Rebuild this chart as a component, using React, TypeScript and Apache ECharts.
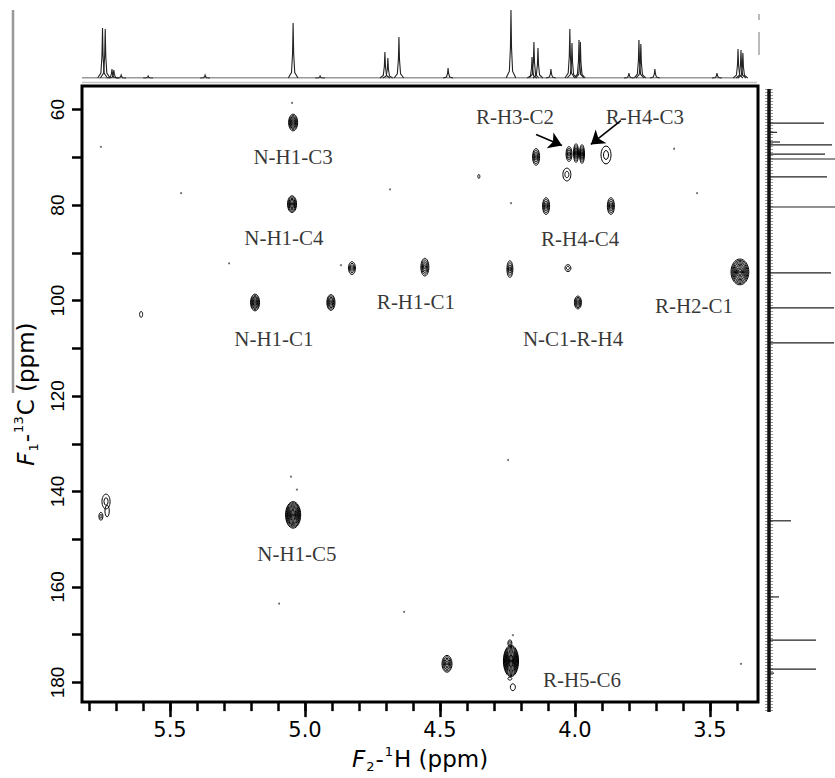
import React, { useEffect, useRef } from "react";
import * as echarts from "echarts";

// axis ranges (ppm)
const H_MIN = 3.322;
const H_MAX = 5.826;
const C_MIN = 55.05;
const C_MAX = 184.12;

const hMinorTicks = [3.4, 3.5, 3.6, 3.7, 3.8, 3.9, 4.0, 4.1, 4.2, 4.3, 4.4, 4.5, 4.6, 4.7, 4.8, 4.9, 5.0, 5.1, 5.2, 5.3, 5.4, 5.5, 5.6, 5.7, 5.8];
const hMajorTicks = [3.5, 4.0, 4.5, 5.0, 5.5];
const cTicks = [60, 70, 80, 90, 100, 110, 120, 130, 140, 150, 160, 170, 180];
const cLabels = [60, 80, 100, 120, 140, 160, 180];

// cross peaks: [1H ppm, 13C ppm, 1H half-width ppm, 13C half-width ppm, contour levels]
const crossPeaks = [
  [5.044, 62.7, 0.0167, 1.75, 7],
  [5.048, 79.8, 0.0167, 1.75, 7],
  [4.826, 93.2, 0.013, 1.34, 4],
  [5.185, 100.4, 0.0167, 1.75, 7],
  [4.904, 100.4, 0.015, 1.65, 6],
  [5.607, 102.9, 0.0056, 0.62, 1],
  [4.144, 69.9, 0.013, 1.75, 5],
  [4.022, 69.3, 0.011, 1.55, 4],
  [3.996, 69.1, 0.0093, 1.96, 5],
  [3.974, 69.3, 0.0093, 1.96, 5],
  [3.885, 69.5, 0.0185, 1.86, 2],
  [4.03, 73.6, 0.0148, 1.34, 2],
  [4.356, 74.0, 0.0037, 0.41, 1],
  [4.107, 80.2, 0.013, 1.75, 5],
  [3.867, 80.2, 0.013, 1.75, 5],
  [4.556, 93.0, 0.0148, 1.86, 5],
  [4.241, 93.4, 0.011, 1.75, 4],
  [4.026, 93.2, 0.011, 0.72, 2],
  [3.389, 94.0, 0.033, 2.7, 10],
  [3.989, 100.4, 0.013, 1.34, 5],
  [5.737, 142.1, 0.015, 1.55, 2],
  [5.756, 145.2, 0.0074, 0.82, 2],
  [5.733, 144.1, 0.008, 1.2, 1],
  [5.044, 144.9, 0.028, 2.78, 12],
  [4.474, 176.1, 0.0185, 1.75, 6],
  [4.237, 175.5, 0.028, 3.3, 14],
  [4.241, 171.8, 0.0074, 0.72, 2],
  [4.23, 181.0, 0.0093, 0.72, 1],
  [4.241, 179.2, 0.0074, 0.31, 1],
];

// isolated noise specks [1H ppm, 13C ppm]
const noiseDots = [
  [5.048, 58.6], [5.756, 67.8], [5.459, 77.5], [4.685, 76.7], [5.281, 92.2],
  [4.867, 92.6], [3.633, 68.2], [4.237, 79.6], [3.548, 77.5], [5.052, 136.9],
  [5.03, 139.6], [5.096, 163.5], [4.633, 165.2], [4.23, 170.1], [3.385, 176.1],
  [4.248, 133.4],
];

// assignment labels
const labelText = ["N-H1-C3", "N-H1-C4", "N-H1-C1", "R-H1-C1", "R-H3-C2", "R-H4-C3", "R-H4-C4", "R-H2-C1", "N-C1-R-H4", "N-H1-C5", "R-H5-C6"];
const labelH = [5.044, 5.078, 5.115, 4.589, 4.222, 3.741, 3.981, 3.559, 4.007, 5.03, 3.974];
const labelC = [69.9, 86.8, 108.0, 100.2, 61.6, 61.6, 87.0, 101.2, 108.0, 153.0, 179.4];

// arrows [from, to]
const arrowFrom = [[4.144, 65.2], [3.83, 62.3]];
const arrowTo = [[4.048, 67.5], [3.941, 67.3]];

// 1H projection (top)
const protonPpm = [5.75, 5.74, 5.715, 5.708, 5.681, 5.581, 5.37, 5.044, 4.944, 4.704, 4.693, 4.652, 4.47, 4.237, 4.159, 4.152, 4.137, 4.089, 4.019, 4.011, 3.985, 3.98, 3.8, 3.763, 3.756, 3.704, 3.474, 3.396, 3.385, 3.378];
const protonHeight = [50, 49, 9, 8, 3, 2, 3, 55, 2, 26, 20, 41, 10, 68, 21, 36, 30, 9, 49, 35, 38, 36, 5, 38, 34, 9, 5, 29, 28, 25];

// 13C projection (right)
const carbonPpm = [62.7, 64.6, 66.6, 67.2, 69.1, 70.1, 73.8, 80.0, 93.6, 100.8, 108.0, 144.7, 160.4, 169.3, 175.3, 176.1];
const carbonHeight = [55, 8, 11, 63, 56, 66, 58, 66, 62, 65, 65, 22, 10, 47, 47, 5];

const SANS = "DejaVu Sans, Liberation Sans, Arial, sans-serif";
const SERIF = "Liberation Serif, Times New Roman, serif";

const nameRich = {
  f: { fontFamily: SANS, fontSize: 23, fontStyle: "italic", color: "#000", lineHeight: 28 },
  n: { fontFamily: SANS, fontSize: 23, color: "#000", lineHeight: 28 },
  sub: { fontFamily: SANS, fontSize: 13, color: "#000", lineHeight: 28, verticalAlign: "bottom", padding: [10, 1, 0, 1] },
  sup: { fontFamily: SANS, fontSize: 13, color: "#000", lineHeight: 28, verticalAlign: "top", padding: [0, 1, 10, 1] },
};

export default function App() {
  const ref = useRef<HTMLDivElement>(null);
  useEffect(() => {
    if (!ref.current) return;
    const chart = echarts.init(ref.current, undefined, { renderer: "svg" });

    const option: any = {
      animation: false,
      backgroundColor: "#fff",
      grid: [
        { left: 82, top: 86, width: 676, height: 626, show: true, borderColor: "#000", borderWidth: 3, backgroundColor: "transparent", z: 5 },
        { left: 82, top: 8, width: 676, height: 70 },
        { left: 769, top: 86, width: 66, height: 626 },
      ],
      xAxis: [
        {
          gridIndex: 0, type: "value", min: H_MIN, max: H_MAX, inverse: true, position: "bottom",
          axisLine: { show: false }, splitLine: { show: false },
          axisTick: { show: true, customValues: hMinorTicks, length: 9, lineStyle: { color: "#000", width: 2.5 } },
          axisLabel: { show: false },
        },
        {
          gridIndex: 0, type: "value", min: H_MIN, max: H_MAX, inverse: true, position: "bottom",
          axisLine: { show: false }, splitLine: { show: false },
          axisTick: { show: true, customValues: hMajorTicks, length: 15, lineStyle: { color: "#000", width: 2.5 } },
          axisLabel: {
            show: true, customValues: hMajorTicks, formatter: (v: number) => v.toFixed(1),
            fontFamily: SANS, fontSize: 21, color: "#000", margin: 17,
          },
          name: "{f|F}{sub|2}{n|-}{sup|1}{n|H (ppm)}",
          nameLocation: "middle", nameGap: 35,
          nameTextStyle: { rich: nameRich },
        },
        { gridIndex: 1, type: "value", min: H_MIN, max: H_MAX, inverse: true, show: false },
        { gridIndex: 2, type: "value", min: 0, max: 66, show: false },
      ],
      yAxis: [
        {
          gridIndex: 0, type: "value", min: C_MIN, max: C_MAX, inverse: true,
          axisLine: { show: false }, splitLine: { show: false },
          axisTick: { show: true, customValues: cTicks, length: 10, lineStyle: { color: "#000", width: 2.5 } },
          axisLabel: {
            show: true, customValues: cLabels, rotate: 90,
            fontFamily: "Liberation Sans, Arial, sans-serif", fontSize: 19, color: "#000", margin: 15,
          },
          name: "{f|F}{sub|1}{n|-}{sup|13}{n|C (ppm)}",
          nameLocation: "middle", nameGap: 40, nameRotate: 90,
          nameTextStyle: { rich: nameRich },
        },
        { gridIndex: 1, type: "value", min: 0, max: 70, show: false },
        { gridIndex: 2, type: "value", min: C_MIN, max: C_MAX, inverse: true, show: false },
      ],
      graphic: [
        { type: "line", silent: true, shape: { x1: 13, y1: 10, x2: 13, y2: 393 }, style: { stroke: "#999", lineWidth: 2.5 } },
        { type: "line", silent: true, shape: { x1: 82, y1: 82.5, x2: 757, y2: 82.5 }, style: { stroke: "#c4c4c4", lineWidth: 1.5 } },
        { type: "line", silent: true, shape: { x1: 759, y1: 14, x2: 759, y2: 20 }, style: { stroke: "#777", lineWidth: 1 } },
        { type: "line", silent: true, shape: { x1: 759, y1: 32, x2: 759, y2: 55 }, style: { stroke: "#777", lineWidth: 1 } },
      ],
      series: [
        {
          type: "custom", xAxisIndex: 0, yAxisIndex: 0, silent: true, z: 3,
          data: crossPeaks,
          renderItem: (params: any, api: any) => {
            const pt = api.coord([api.value(0), api.value(1)]);
            const sz = api.size([api.value(2), api.value(3)]);
            const rx = Math.abs(sz[0]);
            const ry = Math.abs(sz[1]);
            const n = api.value(4);
            const children: any[] = [];
            for (let i = 0; i < n; i++) {
              const f = 1 - i / n;
              children.push({
                type: "ellipse",
                shape: { cx: pt[0], cy: pt[1], rx: Math.max(rx * f, 0.6), ry: Math.max(ry * f, 0.6) },
                style: { fill: "none", stroke: "#000", lineWidth: 1 },
              });
            }
            return { type: "group", children };
          },
        },
        {
          type: "scatter", xAxisIndex: 0, yAxisIndex: 0, silent: true, symbolSize: 2,
          itemStyle: { color: "#444" }, data: noiseDots,
        },
        {
          type: "scatter", xAxisIndex: 0, yAxisIndex: 0, silent: true, symbolSize: 1, z: 6,
          itemStyle: { color: "rgba(0,0,0,0)" },
          data: labelText.map((t, i) => ({ name: t, value: [labelH[i], labelC[i]] })),
          label: {
            show: true, position: "inside", formatter: "{b}",
            fontFamily: SERIF, fontSize: 21, color: "#000", textBorderWidth: 0,
          },
          labelLayout: { hideOverlap: false },
        },
        {
          type: "lines", coordinateSystem: "cartesian2d", xAxisIndex: 0, yAxisIndex: 0, silent: true, z: 6,
          symbol: ["none", "arrow"], symbolSize: [0, 13],
          lineStyle: { color: "#000", width: 1.6, opacity: 1 },
          data: arrowFrom.map((a, i) => ({ coords: [a, arrowTo[i]] })),
        },
        // top 1H projection
        {
          type: "line", xAxisIndex: 2, yAxisIndex: 1, silent: true, showSymbol: false,
          lineStyle: { color: "#333", width: 1 },
          data: [[H_MAX, 0], [H_MIN + 0.07, 0]],
        },
        {
          type: "custom", xAxisIndex: 2, yAxisIndex: 1, silent: true,
          data: protonPpm.map((p, i) => [p, protonHeight[i]]),
          renderItem: (params: any, api: any) => {
            const p = api.value(0);
            const h = api.value(1);
            const pts = [
              api.coord([p + 0.018, 0]),
              api.coord([p + 0.006, h * 0.1]),
              api.coord([p + 0.002, h * 0.45]),
              api.coord([p, h]),
              api.coord([p - 0.002, h * 0.45]),
              api.coord([p - 0.006, h * 0.1]),
              api.coord([p - 0.018, 0]),
            ];
            return { type: "polyline", shape: { points: pts }, style: { fill: "none", stroke: "#222", lineWidth: 1.1 } };
          },
        },
        // right 13C projection
        {
          type: "line", xAxisIndex: 3, yAxisIndex: 2, silent: true, showSymbol: false,
          lineStyle: { color: "#444", width: 8, type: [1, 2], opacity: 0.55 },
          data: [[0, C_MIN + 0.6], [0, C_MAX]],
        },
        {
          type: "line", xAxisIndex: 3, yAxisIndex: 2, silent: true, showSymbol: false,
          lineStyle: { color: "#111", width: 3.5 },
          data: [[0, C_MIN + 0.6], [0, C_MAX]],
        },
        {
          type: "custom", xAxisIndex: 3, yAxisIndex: 2, silent: true,
          data: carbonPpm.map((c, i) => [carbonHeight[i], c]),
          renderItem: (params: any, api: any) => {
            const a = api.coord([0, api.value(1)]);
            const b = api.coord([api.value(0), api.value(1)]);
            return { type: "line", shape: { x1: a[0], y1: a[1], x2: b[0], y2: b[1] }, style: { stroke: "#222", lineWidth: 1.2 } };
          },
        },
      ],
    };

    chart.setOption(option);
    return () => chart.dispose();
  }, []);

  return <div ref={ref} style={{ position: "fixed", left: 0, top: 0, width: 835, height: 778 }} />;
}
